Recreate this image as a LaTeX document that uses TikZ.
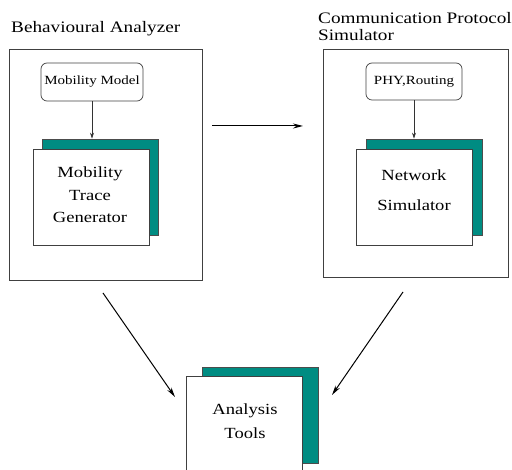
\documentclass[tikz,border=0pt]{standalone}
\usepackage{fontspec}
\setmainfont[FakeStretch=1.2]{Liberation Serif}
\usetikzlibrary{arrows.meta,calc}
\definecolor{tealbox}{RGB}{0,140,130}
\begin{document}
\begin{tikzpicture}[x=1pt,y=-1pt,
  outer/.style={draw=black!75,line width=0.8pt,minimum width=#1,inner sep=0pt},
  modelbox/.style={draw=black!75,line width=0.7pt,rounded corners=6pt,inner sep=0pt,
    font=\fontsize{12.5}{14}\selectfont},
  backbox/.style={draw=black!70,fill=tealbox,line width=0.6pt,inner sep=0pt,
    minimum width=116pt,minimum height=96pt},
  frontbox/.style={draw=black!75,fill=white,line width=0.7pt,inner sep=0pt,
    minimum width=116pt,minimum height=96pt},
  boxtext/.style={align=center,inner sep=0pt,font=\fontsize{15.5}{#1}\selectfont},
  title/.style={anchor=west,align=left,inner sep=0pt,font=\fontsize{16}{17}\selectfont},
  small/.style={draw=black!80,line width=0.7pt,-{Stealth[length=6pt,width=4pt]}},
  big/.style={draw=black,line width=1pt,-{Stealth[length=10pt,width=5pt]}}]
\useasboundingbox (0,0) rectangle (512,470);
% left group
\node[title] (tL) at (11,29) {Behavioural Analyzer};
\node[outer=193pt,minimum height=231pt] (L) at (105.5,164.5) {};
\node[modelbox,minimum width=102pt,minimum height=38pt] (mm) at (92,82) {Mobility Model};
\node[backbox] (Lb) at (100.5,187) {};
\node[frontbox] (Lf) at (91,197) {};
\node[boxtext=22.5pt] (Lt) at (90,195) {Mobility\\Trace\\Generator};
\draw[small] (mm.south) -- (mm.south |- Lb.north);
% right group
\node[title] (tR1) at (318,18) {Communication Protocol};
\node[title] (tR2) at (318,35) {Simulator};
\node[outer=185pt,minimum height=228pt] (R) at (415.5,163) {};
\node[modelbox,minimum width=96pt,minimum height=37pt] (phy) at (414,81.5) {PHY,Routing};
\node[backbox] (Rb) at (424,187) {};
\node[frontbox] (Rf) at (414,197) {};
\node[boxtext=30pt] (Rt) at (414,190) {Network\\Simulator};
\draw[small] (phy.south) -- (phy.south |- Rb.north);
% bottom group
\node[backbox] (Bb) at (260,415) {};
\node[frontbox] (Bf) at (244.5,424) {};
\node[boxtext=24pt] (Bt) at (245,421) {Analysis\\Tools};
% connectors
\coordinate (m1) at (212,126);
\coordinate (m2) at (303,126);
\draw[big] (m1) -- (m2);
\coordinate (a1) at (103,293);
\coordinate (a2) at (175,397);
\draw[big] (a1) -- (a2);
\coordinate (b1) at (403,292);
\coordinate (b2) at (332,395);
\draw[big] (b1) -- (b2);
\end{tikzpicture}
\end{document}
